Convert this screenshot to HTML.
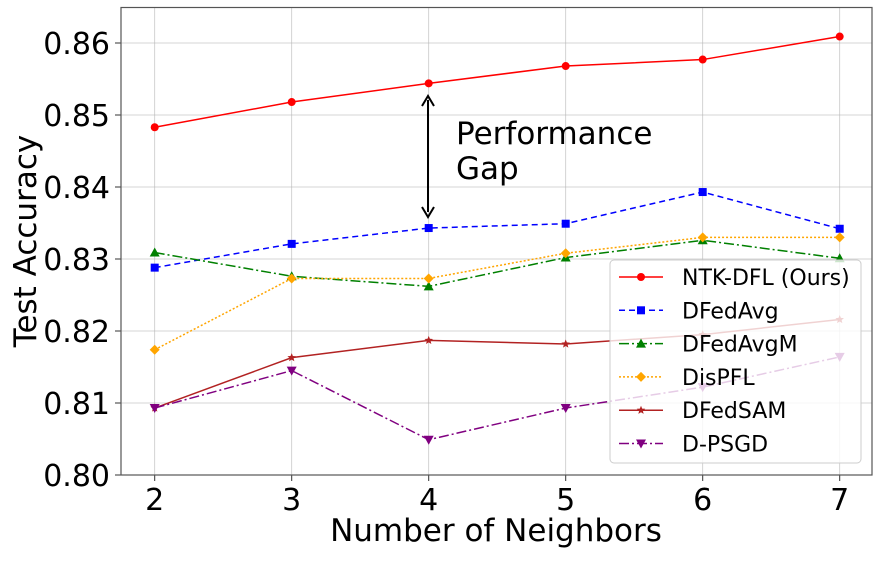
<!DOCTYPE html>
<html><head><meta charset="utf-8"><style>
body{margin:0;background:#fff}
svg text{font-family:"DejaVu Sans","Liberation Sans",sans-serif}
</style></head><body>
<svg id="chart" width="881" height="556" viewBox="0 0 881 556">
<g id="grid"></g>
<g id="axes"></g>
<g id="series"></g>
<g>
<line x1="428" y1="100" x2="428" y2="212" stroke="#000" stroke-width="2"/>
<path d="M422,106 L428,96 L434,106" fill="none" stroke="#000" stroke-width="2"/>
<path d="M422,207 L428,217 L434,207" fill="none" stroke="#000" stroke-width="2"/>
<text x="456" y="144" font-size="31">Performance</text>
<text x="456" y="179" font-size="31">Gap</text>
</g>
<g id="legend"></g>
</svg>
<script>
const xs=[2,3,4,5,6,7];
const yTicks=[0.80,0.81,0.82,0.83,0.84,0.85,0.86];
const yTickLabels=["0.80","0.81","0.82","0.83","0.84","0.85","0.86"];
const ntk=[0.8483,0.8518,0.8544,0.8568,0.8577,0.8609];
const dfedavg=[0.8288,0.8321,0.8343,0.8349,0.8393,0.8342];
const dfedavgm=[0.8309,0.8276,0.8262,0.8302,0.8326,0.8301];
const dispfl=[0.8174,0.8273,0.8273,0.8308,0.8330,0.8330];
const dfedsam=[0.8093,0.8163,0.8187,0.8182,0.8195,0.8216];
const dpsgd=[0.8093,0.8145,0.8049,0.8093,0.8122,0.8164];
const names=["NTK-DFL (Ours)","DFedAvg","DFedAvgM","DisPFL","DFedSAM","D-PSGD"];
const NS="http://www.w3.org/2000/svg";
const L=121,R=872,T=7.5,B=475;
const X=v=>154.7+(v-2)*137;
const Y=v=>475-(v-0.80)*7200;
function mk(tag,at,parent){const e=document.createElementNS(NS,tag);for(const k in at)e.setAttribute(k,at[k]);parent.appendChild(e);return e;}
const grid=document.getElementById('grid'),axes=document.getElementById('axes'),ser=document.getElementById('series'),leg=document.getElementById('legend');
xs.forEach(v=>{
 const g=mk('line',{x1:X(v),x2:X(v),y1:T,y2:B,stroke:'#b0b0b0','stroke-width':0.8,'stroke-opacity':0.7},grid);
 
 
 mk('line',{x1:X(v),x2:X(v),y1:B,y2:B+6,stroke:'#333','stroke-width':1},axes);
 const t=mk('text',{x:X(v),y:510,'font-size':30,'text-anchor':'middle'},axes);t.textContent=v;
 
 
});
yTicks.forEach((v,i)=>{
 const g=mk('line',{x1:L,x2:R,y1:Y(v),y2:Y(v),stroke:'#b0b0b0','stroke-width':0.8,'stroke-opacity':0.7},grid);
 
 
 mk('line',{x1:L-6,x2:L,y1:Y(v),y2:Y(v),stroke:'#333','stroke-width':1},axes);
 const t=mk('text',{x:110,y:Y(v)+11,'font-size':30,'text-anchor':'end'},axes);t.textContent=yTickLabels[i];
 
 
});
mk('rect',{x:L,y:T,width:R-L,height:B-T,fill:'none',stroke:'#555','stroke-width':1.2},axes);
let t=mk('text',{x:496,y:541,'font-size':31,'text-anchor':'middle'},axes);t.textContent='Number of Neighbors';


t=mk('text',{x:0,y:0,'font-size':31,'text-anchor':'middle',transform:'translate(36,241) rotate(-90)'},axes);t.textContent='Test Accuracy';


function marker(type,x,y,c,p){
 let s=5;
 if(type==='o')return mk('circle',{cx:x,cy:y,r:4,fill:c},p);
 if(type==='s')return mk('rect',{x:x-4,y:y-4,width:8,height:8,fill:c},p);
 if(type==='^')return mk('path',{d:`M${x},${y-5}L${x+5},${y+4}L${x-5},${y+4}Z`,fill:c},p);
 if(type==='v')return mk('path',{d:`M${x},${y+5}L${x+5},${y-4}L${x-5},${y-4}Z`,fill:c},p);
 if(type==='D')return mk('path',{d:`M${x},${y-s}L${x+s},${y}L${x},${y+s}L${x-s},${y}Z`,fill:c},p);
 let d='';for(let i=0;i<10;i++){const r=i%2?2:4.5,a=-Math.PI/2+i*Math.PI/5;d+=(i?'L':'M')+(x+r*Math.cos(a))+','+(y+r*Math.sin(a));}
 return mk('path',{d:d+'Z',fill:c},p);
}
const specs=[
 [ntk,'#ff0000','','o','series-ntk-dfl'],
 [dfedavg,'#0000ff','6,4','s','series-dfedavg'],
 [dfedavgm,'#008000','10,3,2,3','^','series-dfedavgm'],
 [dispfl,'#ffa500','2,2','D','series-dispfl'],
 [dfedsam,'#b22222','','*','series-dfedsam'],
 [dpsgd,'#800080','10,3,2,3','v','series-d-psgd']];
specs.forEach(([vals,c,da,m,nm])=>{
 const g=mk('g',{},ser);
 
 
 mk('path',{d:vals.map((v,i)=>(i?'L':'M')+X(xs[i])+','+Y(v)).join(''),fill:'none',stroke:c,'stroke-width':1.5,'stroke-dasharray':da},g);
 vals.forEach((v,i)=>{const e=marker(m,X(xs[i]),Y(v),c,g);
  
  });
});
mk('rect',{x:610,y:260,width:251,height:203,rx:4,fill:'#fff','fill-opacity':0.8,stroke:'#ccc','stroke-width':1},leg);
specs.forEach(([vals,c,da,m,nm],i)=>{
 const y=277+i*33.3;
 const g=mk('g',{},leg);
 
 
 mk('line',{x1:619,x2:663,y1:y,y2:y,stroke:c,'stroke-width':1.5,'stroke-dasharray':da},g);
 marker(m,641,y,c,g);
 const tt=mk('text',{x:682,y:y+8,'font-size':22},g);tt.textContent=names[i];
});
</script>
</body></html>
